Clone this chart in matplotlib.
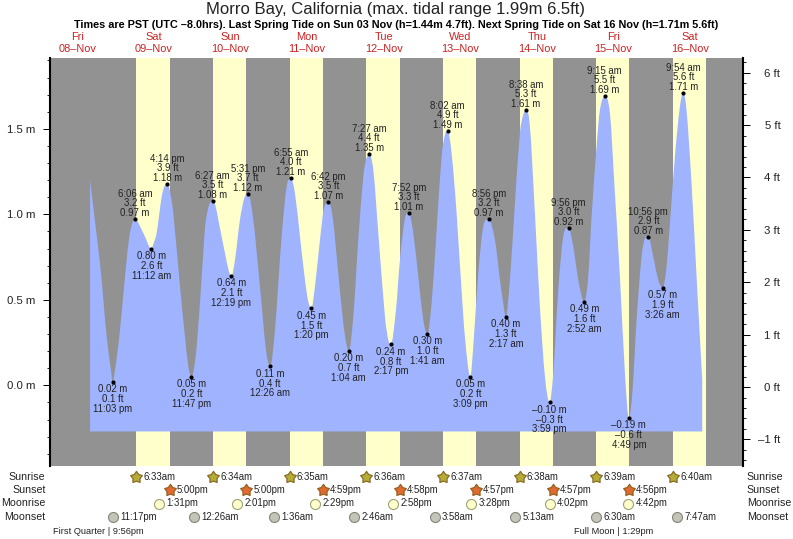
import matplotlib
matplotlib.use("Agg")
import matplotlib.pyplot as plt
from matplotlib.path import Path
from matplotlib.patches import PathPatch
from matplotlib.ticker import FixedLocator, MultipleLocator

plt.rcParams['font.family'] = ['Liberation Sans', 'DejaVu Sans']

# hours since 00:00 on 08-Nov
tide_hours = [16.0, 17.23, 19.32, 21.2, 22.56, 23.05, 23.81, 25.17, 27.15, 28.3, 29.24, 30.1,
              32.7, 35.2, 36.0, 36.86, 38.43, 39.27, 40.23, 41.15, 42.09, 44.18, 45.74, 46.79, 47.78,
              49.08, 50.44, 51.8, 52.3, 53.3, 54.45, 55.3, 56.19, 58.28, 59.53, 60.32, 61.41, 62.97, 64.33, 65.52,
              67.15, 69.24, 71.12, 72.43, 73.94, 76.03, 77.6, 78.92,
              80.2, 81.77, 83.34, 84.38, 85.33, 86.47, 88.04, 89.29, 90.7,
              92.0, 93.78, 95.35, 96.39, 97.07, 98.48, 100.05, 101.62, 102.5, 103.45,
              104.75, 106.32, 108.4, 109.45, 110.28, 111.85, 113.1, 114.67, 115.87,
              117.28, 118.85, 120.42, 121.68, 123.03, 124.59, 126.16, 127.2, 128.03,
              129.29, 130.86, 132.95, 134.3, 135.15, 136.08, 137.65, 139.2, 140.93,
              142.87, 144.44, 145.47, 146.28, 147.56, 149.13, 150.7, 151.74, 152.63,
              153.83, 155.4, 156.96, 158.53, 159.98, 161.14, 162.71, 164.27, 165.93,
              167.41, 168.97, 170.23, 170.87, 172.1, 173.15, 174.72, 175.76, 177.25,
              178.9, 180.46, 182.03, 183.6, 184.82, 186.0, 187.25, 188.82, 189.86, 190.93,
              192.47, 194.04, 195.43, 196.65, 197.7, 199.26, 200.83, 201.9,
              202.9, 204.48, 206.05, 207.83]
tide_m = [1.20, 1.006, 0.675, 0.285, 0.09, 0.02, 0.09, 0.285, 0.675, 0.87, 0.948, 0.97,
          0.89, 0.80, 0.835, 0.89, 1.10, 1.162, 1.18, 1.123, 1.006, 0.577, 0.285, 0.11, 0.05,
          0.168, 0.48, 0.87, 0.967, 1.055, 1.08, 1.05, 0.967, 0.772, 0.665, 0.64, 0.733, 0.967, 1.094, 1.12,
          0.967, 0.577, 0.207, 0.11, 0.324, 0.87, 1.162, 1.21,
          1.123, 0.87, 0.616, 0.49, 0.45, 0.578, 0.85, 1.035, 1.07,
          0.987, 0.655, 0.363, 0.236, 0.20, 0.402, 0.85, 1.22, 1.32, 1.35,
          1.26, 0.89, 0.402, 0.266, 0.24, 0.441, 0.733, 0.977, 1.01,
          0.89, 0.636, 0.383, 0.30, 0.48, 0.909, 1.338, 1.464, 1.49,
          1.357, 1.006, 0.402, 0.129, 0.05, 0.227, 0.655, 0.928, 0.97,
          0.85, 0.616, 0.48, 0.40, 0.617, 1.065, 1.474, 1.581, 1.61,
          1.513, 1.006, 0.461, 0.051, -0.10, 0.071, 0.558, 0.87, 0.92,
          0.811, 0.617, 0.509, 0.49, 0.636, 0.987, 1.396, 1.61, 1.69,
          1.591, 1.123, 0.636, 0.071, -0.19, -0.027, 0.383, 0.753, 0.86, 0.87,
          0.753, 0.617, 0.57, 0.695, 0.948, 1.338, 1.63, 1.71,
          1.61, 1.18, 0.636, 0.03]
tide_floor_m = -0.27

# labelled high and low waters
event_hours = [23.05, 30.1, 35.2, 40.23, 47.78, 54.45, 60.32, 65.52, 72.43, 78.92,
               85.33, 90.7, 97.07, 103.45, 110.28, 115.87, 121.68, 128.03, 135.15, 140.93,
               146.28, 152.63, 159.98, 165.93, 170.87, 177.25, 184.82, 190.93, 195.43, 201.9]
event_m = ['0.02', '0.97', '0.80', '1.18', '0.05', '1.08', '0.64', '1.12', '0.11', '1.21',
           '0.45', '1.07', '0.20', '1.35', '0.24', '1.01', '0.30', '1.49', '0.05', '0.97',
           '0.40', '1.61', '–0.10', '0.92', '0.49', '1.69', '–0.19', '0.87', '0.57', '1.71']
event_ft = ['0.1', '3.2', '2.6', '3.9', '0.2', '3.5', '2.1', '3.7', '0.4', '4.0',
            '1.5', '3.5', '0.7', '4.4', '0.8', '3.3', '1.0', '4.9', '0.2', '3.2',
            '1.3', '5.3', '–0.3', '3.0', '1.6', '5.5', '–0.6', '2.9', '1.9', '5.6']
event_time = ['11:03 pm', '6:06 am', '11:12 am', '4:14 pm', '11:47 pm', '6:27 am', '12:19 pm', '5:31 pm',
              '12:26 am', '6:55 am', '1:20 pm', '6:42 pm', '1:04 am', '7:27 am', '2:17 pm', '7:52 pm',
              '1:41 am', '8:02 am', '3:09 pm', '8:56 pm', '2:17 am', '8:38 am', '3:59 pm', '9:56 pm',
              '2:52 am', '9:15 am', '4:49 pm', '10:56 pm', '3:26 am', '9:54 am']

day_names = ['Fri', 'Sat', 'Sun', 'Mon', 'Tue', 'Wed', 'Thu', 'Fri', 'Sat']
day_dates = ['08–Nov', '09–Nov', '10–Nov', '11–Nov', '12–Nov', '13–Nov', '14–Nov', '15–Nov', '16–Nov']
day_noon_hours = [12, 36, 60, 84, 108, 132, 156, 180, 204]

sunrise_hours = [30.55, 54.57, 78.58, 102.6, 126.62, 150.63, 174.65, 198.67]
sunrise_text = ['6:33am', '6:34am', '6:35am', '6:36am', '6:37am', '6:38am', '6:39am', '6:40am']
sunset_hours = [41.0, 65.0, 88.98, 112.97, 136.95, 160.95, 184.93]
sunset_text = ['5:00pm', '5:00pm', '4:59pm', '4:58pm', '4:57pm', '4:57pm', '4:56pm']
last_sunset_hour = 208.93
moonrise_hours = [37.52, 62.02, 86.48, 110.97, 135.47, 160.03, 184.7]
moonrise_text = ['1:31pm', '2:01pm', '2:29pm', '2:58pm', '3:28pm', '4:02pm', '4:42pm']
moonset_hours = [23.28, 48.43, 73.6, 98.77, 123.97, 149.22, 174.5, 199.78]
moonset_text = ['11:17pm', '12:26am', '1:36am', '2:46am', '3:58am', '5:13am', '6:30am', '7:47am']
phase_hours = [21.93, 181.48]
phase_text = ['First Quarter | 9:56pm', 'Full Moon | 1:29pm']

W, H = 793, 539
fig = plt.figure(figsize=(W / 100, H / 100), dpi=100, facecolor='white')
ax = fig.add_axes([49.5 / W, 1 - 465.5 / H, (743 - 49.5) / W, (465.5 - 57.5) / H])
GREY, YELLOW, BLUE = '#929292', '#ffffcc', '#9fb3ff'
INK = '#222222'
ax.set_facecolor(GREY)
ax.set_xlim(3.29, 220.6)
ax.set_ylim(-0.469, 1.917)

for start, end in zip(sunrise_hours, sunset_hours + [last_sunset_hour]):
    ax.axvspan(start, end, facecolor=YELLOW, edgecolor='none', zorder=1)


def tide_path(xs, ys, flat_at, floor):
    """Bezier outline through the read points, level at each high and low water."""
    n = len(xs)
    slopes = []
    for i in range(n):
        if i == 0 or i == n - 1 or xs[i] in flat_at:
            slopes.append(0.0 if xs[i] in flat_at else (ys[min(i + 1, n - 1)] - ys[max(i - 1, 0)]) /
                          (xs[min(i + 1, n - 1)] - xs[max(i - 1, 0)]))
        else:
            slopes.append((ys[i + 1] - ys[i - 1]) / (xs[i + 1] - xs[i - 1]))
    verts = [(xs[0], floor), (xs[0], ys[0])]
    codes = [Path.MOVETO, Path.LINETO]
    for i in range(n - 1):
        d = (xs[i + 1] - xs[i]) / 3
        verts += [(xs[i] + d, ys[i] + slopes[i] * d), (xs[i + 1] - d, ys[i + 1] - slopes[i + 1] * d),
                  (xs[i + 1], ys[i + 1])]
        codes += [Path.CURVE4] * 3
    verts += [(xs[-1], floor), (xs[0], floor)]
    codes += [Path.LINETO, Path.CLOSEPOLY]
    return Path(verts, codes)


ax.add_patch(PathPatch(tide_path(tide_hours, tide_m, set(event_hours), tide_floor_m),
                       facecolor=BLUE, edgecolor='none', zorder=2))

ax.plot(event_hours, [float(v.replace('–', '-')) for v in event_m], 'o', color='black',
        ms=3, mew=0, zorder=4)
for i, (h, m, ft, t) in enumerate(zip(event_hours, event_m, event_ft, event_time)):
    y = float(m.replace('–', '-'))
    offs = (-7.3, -17.3, -27) if i % 2 == 0 else (6, 16, 25)
    for txt, dy in zip((f'{m} m', f'{ft} ft', t), offs):
        ax.annotate(txt, (h, y), xytext=(0, dy), textcoords='offset pixels', ha='center', va='center',
                    fontsize=6.9, color=INK, zorder=5, annotation_clip=False)

# left (metres) axis
for s in ('top', 'bottom', 'right'):
    ax.spines[s].set_visible(False)
ax.spines['left'].set_linewidth(1.5)
ax.xaxis.set_visible(False)
ax.yaxis.set_major_locator(FixedLocator([0, 0.5, 1.0, 1.5]))
ax.yaxis.set_minor_locator(MultipleLocator(0.1))
ax.set_yticklabels(['0.0 m', '0.5 m', '1.0 m', '1.5 m'])
ax.tick_params(axis='y', which='major', length=5, width=0.7, pad=5, labelsize=8.2, labelcolor=INK)
ax.tick_params(axis='y', which='minor', length=2.5, width=0.6)

# right (feet) axis
ax2 = ax.twinx()
ax2.set_ylim(-1.498, 6.29)
for s in ('top', 'bottom', 'left'):
    ax2.spines[s].set_visible(False)
ax2.spines['right'].set_linewidth(1.5)
ax2.yaxis.set_major_locator(FixedLocator(range(-1, 7)))
ax2.yaxis.set_minor_locator(MultipleLocator(0.2))
ax2.set_yticklabels(['–1 ft', '0 ft', '1 ft', '2 ft', '3 ft', '4 ft', '5 ft', '6 ft'])
ax2.tick_params(axis='y', which='major', length=5, width=0.7, pad=22, labelsize=8.2, labelcolor=INK)
ax2.tick_params(axis='y', which='minor', length=2.5, width=0.6)
for lab in ax2.get_yticklabels():
    lab.set_ha('right')

fig.text(395 / W, 1 - 9.5 / H, 'Morro Bay, California (max. tidal range 1.99m 6.5ft)',
         ha='center', va='center', fontsize=12, color=INK)
fig.text(396 / W, 1 - 25.5 / H,
         'Times are PST (UTC –8.0hrs). Last Spring Tide on Sun 03 Nov (h=1.44m 4.7ft). '
         'Next Spring Tide on Sat 16 Nov (h=1.71m 5.6ft)',
         ha='center', va='center', fontsize=7.87, fontweight='bold', color='black')

tr = matplotlib.transforms.blended_transform_factory(ax.transData, fig.transFigure)
for h, n, d in zip(day_noon_hours, day_names, day_dates):
    ax.text(h, 1 - 37.5 / H, n, transform=tr, ha='center', va='center', fontsize=7.9, color='#cc2222', clip_on=False)
    ax.text(h, 1 - 49.5 / H, d, transform=tr, ha='center', va='center', fontsize=7.9, color='#cc2222', clip_on=False)

ROW = {'Sunrise': 476.5, 'Sunset': 490, 'Moonrise': 503.5, 'Moonset': 517}
for name, py in ROW.items():
    fig.text(45.5 / W, 1 - py / H, name, ha='right', va='center', fontsize=7.7, color=INK)
    fig.text(746.7 / W, 1 - py / H, name, ha='left', va='center', fontsize=7.7, color=INK)

STAR = Path.unit_regular_star(5, innerCircle=0.6)


def row(hours, texts, py, fill, edge, star):
    yf = [1 - py / H] * len(hours)
    if star:
        ax.plot(hours, yf, linestyle='none', marker=STAR, transform=tr, clip_on=False, ms=8.8,
                mfc=fill, mec=edge, mew=0.9, zorder=6)
    else:
        ax.plot(hours, yf, 'o', transform=tr, clip_on=False, ms=7.2, mfc=fill, mec=edge, mew=0.8, zorder=6)
    for h, t in zip(hours, texts):
        ax.annotate(t, (h, yf[0]), xycoords=tr, xytext=(7 if star else 7.5, 0), textcoords='offset pixels',
                    ha='left', va='center', fontsize=6.9, color=INK, annotation_clip=False)


row(sunrise_hours, sunrise_text, 476.5, '#b3ad35', '#8a6a28', True)
row(sunset_hours, sunset_text, 490, '#e06a30', '#96601f', True)
row(moonrise_hours, moonrise_text, 503.5, '#ffffcc', '#a0a078', False)
row(moonset_hours, moonset_text, 517, '#c4c4b8', '#85857a', False)

for h, t, dx in zip(phase_hours, phase_text, (-11, -4.5)):
    ax.annotate(t, (h, 1 - 531 / H), xycoords=tr, xytext=(dx, 0), textcoords='offset pixels', ha='center',
                va='center', fontsize=6.7, color=INK, annotation_clip=False)

fig.savefig('out.png', dpi=100)
